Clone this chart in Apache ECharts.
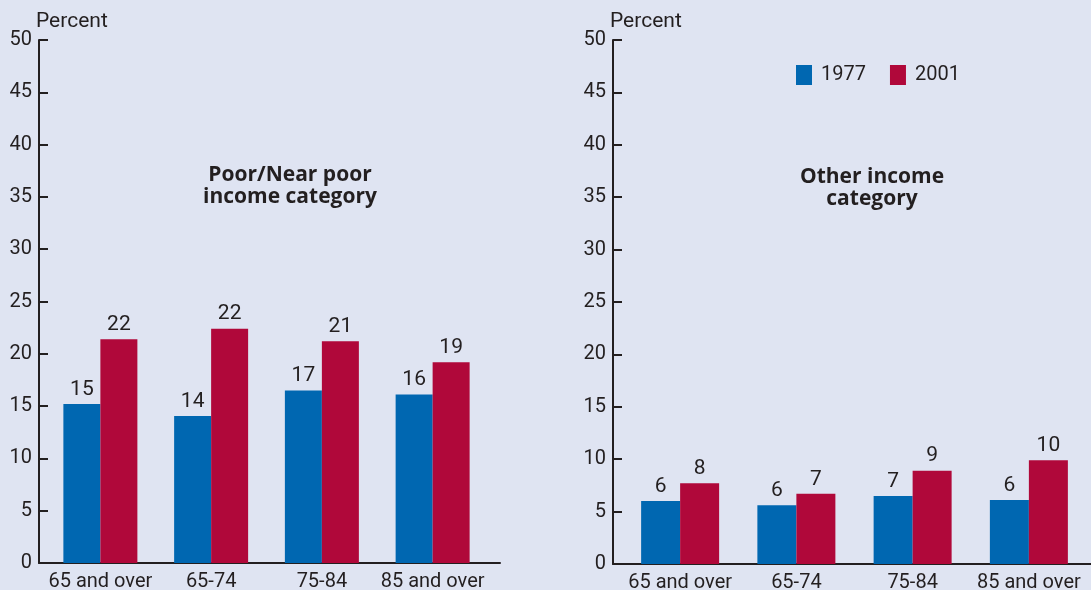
<!DOCTYPE html>
<html>
<head>
<meta charset="utf-8">
<style>
html,body{margin:0;padding:0;background:#dfe4f2;}
#c{width:1091px;height:590px;}
</style>
<script src="https://cdn.jsdelivr.net/npm/echarts@6/dist/echarts.min.js"></script>
</head>
<body>
<div id="c"></div>
<script>
var categories = ['65 and over', '65-74', '75-84', '85 and over'];
var yTicks = [0, 5, 10, 15, 20, 25, 30, 35, 40, 45, 50];
var poor1977 = [15.2, 14.05, 16.5, 16.1];
var poor2001 = [21.4, 22.4, 21.2, 19.2];
var poorLabels1977 = ['15', '14', '17', '16'];
var poorLabels2001 = ['22', '22', '21', '19'];
var other1977 = [6.0, 5.6, 6.5, 6.1];
var other2001 = [7.7, 6.7, 8.9, 9.9];
var otherLabels1977 = ['6', '6', '7', '6'];
var otherLabels2001 = ['8', '7', '9', '10'];
var seriesNames = ['1977', '2001'];

var FONT = 'Roboto';
var INK = '#231f20';
var BLUE = '#0067b1';
var RED = '#b0083a';

var chart = echarts.init(document.getElementById('c'), null, {renderer: 'canvas'});

function frameY(gi) {
  return {
    type: 'value', gridIndex: gi, min: yTicks[0], max: yTicks[yTicks.length - 1], interval: 5,
    name: 'Percent', nameLocation: 'end', nameGap: 8,
    nameTextStyle: {color: INK, fontFamily: FONT, fontSize: 21, align: 'left', padding: [0, 0, 0, -3]},
    axisLine: {show: true, lineStyle: {color: INK, width: 2}},
    axisTick: {show: true, inside: true, length: 9, lineStyle: {color: INK, width: 2}},
    axisLabel: {color: INK, fontFamily: FONT, fontSize: 20, margin: 7},
    splitLine: {show: false}
  };
}
function frameX(gi) {
  return {
    type: 'value', gridIndex: gi, min: 0, max: 1,
    axisLine: {show: true, onZero: false, lineStyle: {color: INK, width: 2}},
    axisTick: {show: false}, axisLabel: {show: false}, splitLine: {show: false}
  };
}
function dataX(gi) {
  return {
    type: 'category', gridIndex: gi, data: categories,
    axisLine: {show: false}, axisTick: {show: false},
    axisLabel: {color: INK, fontFamily: FONT, fontSize: 20, margin: 9, interval: 0}
  };
}
function dataY(gi) {
  return {type: 'value', gridIndex: gi, min: 0, max: 50, show: false};
}
function lbl(arr) {
  return {
    show: true, position: 'top', distance: 4, color: INK, fontFamily: FONT, fontSize: 21,
    formatter: function (p) { return arr[p.dataIndex]; }
  };
}

var option = {
  backgroundColor: '#dfe4f2',
  animation: false,
  textStyle: {fontFamily: FONT},
  legend: {
    data: seriesNames, left: 796, top: 65, padding: 0, itemWidth: 16, itemHeight: 20, itemGap: 24,
    icon: 'rect', textStyle: {color: INK, fontFamily: FONT, fontSize: 20, padding: [0, 0, 0, 4]}
  },
  title: [
    {text: 'Poor/Near poor\nincome category', left: 285, top: 159, textAlign: 'center',
     textStyle: {color: INK, fontFamily: 'Open Sans', fontSize: 21, fontWeight: 'bold', lineHeight: 22}},
    {text: 'Other income\ncategory', left: 867, top: 161, textAlign: 'center',
     textStyle: {color: INK, fontFamily: 'Open Sans', fontSize: 21, fontWeight: 'bold', lineHeight: 22}}
  ],
  grid: [
    {left: 39, top: 40, width: 461, height: 523, containLabel: false, outerBoundsMode: 'none'},
    {left: 45, top: 40, width: 443, height: 523, containLabel: false, outerBoundsMode: 'none'},
    {left: 613, top: 40, width: 478, height: 524, containLabel: false, outerBoundsMode: 'none'},
    {left: 622, top: 40, width: 465, height: 524, containLabel: false, outerBoundsMode: 'none'}
  ],
  xAxis: [frameX(0), dataX(1), frameX(2), dataX(3)],
  yAxis: [frameY(0), dataY(1), frameY(2), dataY(3)],
  series: [
    {type: 'scatter', xAxisIndex: 0, yAxisIndex: 0, data: [], silent: true},
    {type: 'scatter', xAxisIndex: 2, yAxisIndex: 2, data: [], silent: true},
    {name: seriesNames[0], type: 'bar', xAxisIndex: 1, yAxisIndex: 1, data: poor1977, barWidth: 37, barGap: '0%',
     itemStyle: {color: BLUE}, label: lbl(poorLabels1977)},
    {name: seriesNames[1], type: 'bar', xAxisIndex: 1, yAxisIndex: 1, data: poor2001, barWidth: 37, barGap: '0%',
     itemStyle: {color: RED}, label: lbl(poorLabels2001)},
    {name: seriesNames[0], type: 'bar', xAxisIndex: 3, yAxisIndex: 3, data: other1977, barWidth: 39, barGap: '0%',
     itemStyle: {color: BLUE}, label: lbl(otherLabels1977)},
    {name: seriesNames[1], type: 'bar', xAxisIndex: 3, yAxisIndex: 3, data: other2001, barWidth: 39, barGap: '0%',
     itemStyle: {color: RED}, label: lbl(otherLabels2001)}
  ]
};
chart.setOption(option);
</script>
</body>
</html>
